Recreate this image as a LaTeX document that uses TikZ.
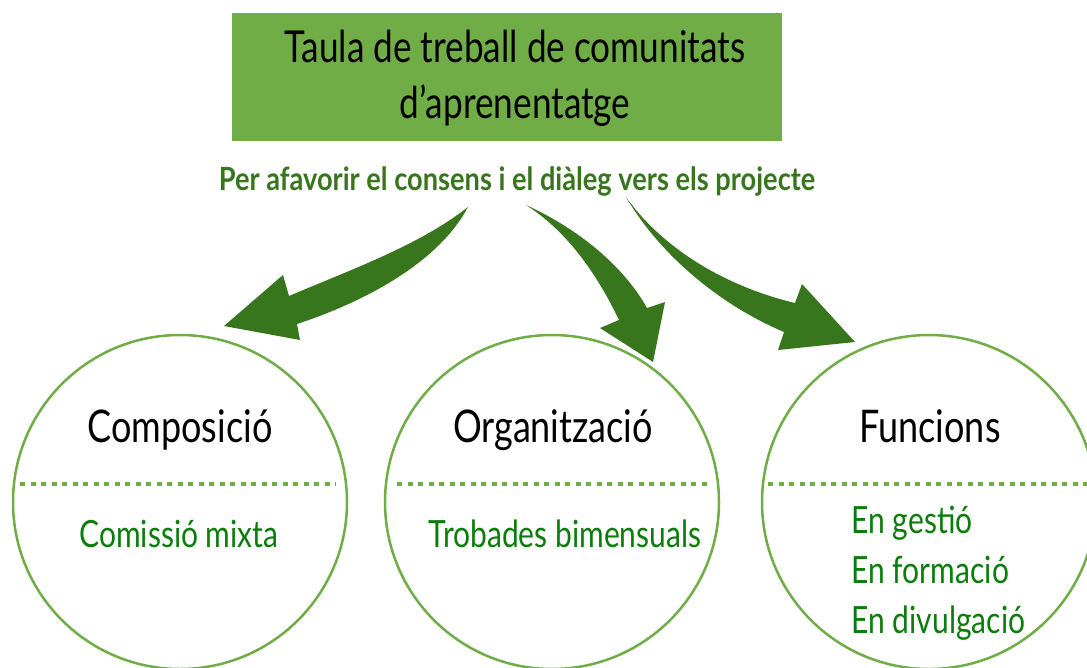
\documentclass[tikz,border=0pt]{standalone}
\usepackage{fontspec}
\setmainfont[FakeStretch=0.8]{Lato}
\newfontfamily\boldcond[FakeStretch=0.85]{Lato Bold}
\definecolor{boxgreen}{HTML}{70AD47}
\definecolor{arrowgreen}{HTML}{38761D}
\definecolor{textgreen}{HTML}{0A7D0A}
\tikzset{
  topic/.style={circle, draw=boxgreen, line width=2.5pt, minimum size=334pt, inner sep=0pt},
  heading/.style={anchor=base, font=\fontsize{45}{50}\selectfont, text=black},
  item/.style={anchor=base, font=\fontsize{37.5}{42}\selectfont, text=textgreen},
  divider/.style={boxgreen, line width=4.5pt, dash pattern=on 5pt off 5.5pt},
  bigarrow/.style={fill=arrowgreen}
}
\begin{document}
\begin{tikzpicture}[x=1pt, y=-1pt]
                \useasboundingbox (0,0) rectangle (1087,667);
                \clip (0,0) rectangle (1087,667);

                \node[fill=boxgreen, minimum width=550pt, minimum height=128pt, inner sep=0pt] (title) at (507,77) {};
                \node[anchor=base, font=\fontsize{44}{50}\selectfont] (t1) at (515,62) {Taula de treball de comunitats};
                \node[anchor=base, font=\fontsize{44}{50}\selectfont] (t2) at (515,118) {d'aprenentatge};
                \node[anchor=base, font=\boldcond\fontsize{32}{36}\selectfont, text=arrowgreen] (sub) at (517,190) {Per afavorir el consens i el diàleg vers els projecte};

                \node[topic] (comp) at (180,502) {};
                \node[topic] (org) at (552,502) {};
                \node[topic] (func) at (929,502) {};

                \draw[divider] (20,484) -- (336,484);
                \draw[divider] (397,484) -- (708,484);
                \draw[divider] (768,484) -- (1087,484);

                \node[heading] (compt) at (180,442) {Composició};
                \node[heading] (orgt) at (553,442) {Organització};
                \node[heading] (funct) at (930,442) {Funcions};

                \node[item] (c1) at (179,547) {Comissió mixta};
                \node[item] (o1) at (565,547) {Trobades bimensuals};
                \node[item, anchor=base west] (f1) at (848,533) {En gestió};
                \node[item, anchor=base west] (f2) at (848,583) {En formació};
                \node[item, anchor=base west] (f3) at (848,633) {En divulgació};

                \fill[bigarrow] (468,207) .. controls (420,245) and (350,270) .. (289,296)
                    -- (283,275) -- (224,326) -- (300,340) -- (297,324)
                    .. controls (370,300) and (440,260) .. (468,207) -- cycle;
                \fill[bigarrow] (526,205) .. controls (570,225) and (620,260) .. (647,308)
                    -- (665,302) -- (653,362) -- (600,328) -- (619,320)
                    .. controls (595,270) and (565,230) .. (526,205) -- cycle;
                \fill[bigarrow] (626,197) .. controls (660,245) and (720,285) .. (795,303)
                    -- (802,284) -- (855,342) -- (778,350) -- (784,332)
                    .. controls (720,305) and (660,255) .. (626,197) -- cycle;
\end{tikzpicture}
\end{document}
